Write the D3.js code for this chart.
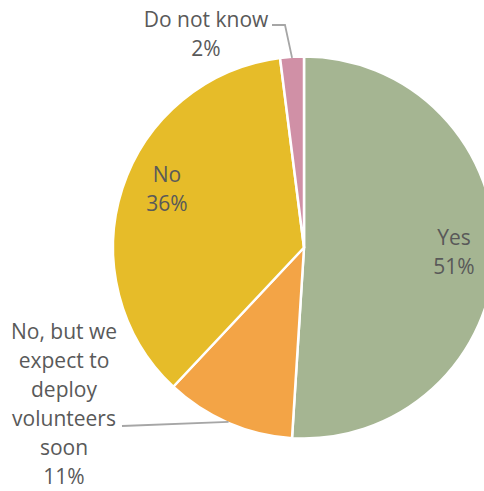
<!DOCTYPE html>
<html>
<head>
<meta charset="utf-8">
<script src="https://cdn.jsdelivr.net/npm/d3@7"></script>
<style>
  body { margin: 0; background: #fff; }
</style>
</head>
<body>
<div id="chart"></div>
<script>
// data
var categories = ["Yes", "No, but we expect to deploy volunteers soon", "No", "Do not know"];
var values = [51, 11, 36, 2];
// how each category name wraps in its label
var nameLines = [["Yes"], ["No, but we", "expect to", "deploy", "volunteers", "soon"], ["No"], ["Do not know"]];
var colors = ["#A5B592", "#F3A446", "#E6BC29", "#D090A6"];

var width = 484, height = 491;
var cx = 304, cy = 247.5, radius = 191;
var lineH = 29;

// first baseline of each label (placed by hand, like in the source chart)
var labelPos = [[454, 245], [64, 339], [167, 182], [206, 27]];
// leader line start points (only outside labels)
var leaders = [null, [[122, 426]], null, [[272, 25], [285, 25]]];

var svg = d3.select("#chart")
            .append("svg")
            .attr("width", width)
            .attr("height", height);

svg.append("rect")
   .attr("width", width)
   .attr("height", height)
   .attr("fill", "#ffffff");

var pie = d3.pie()
            .sort(null)
            .value(function(d) { return d; });

var arcs = pie(values);

var arc = d3.arc()
            .innerRadius(0)
            .outerRadius(radius);

// arc used to find the point on the rim for leader lines
var rimArc = d3.arc()
               .innerRadius(radius - 1)
               .outerRadius(radius - 1);

var g = svg.append("g")
           .attr("transform", "translate(" + cx + "," + cy + ")");

g.selectAll("path")
 .data(arcs)
 .enter()
 .append("path")
 .attr("d", arc)
 .attr("fill", function(d, i) { return colors[i]; })
 .attr("stroke", "#ffffff")
 .attr("stroke-width", 2.5)
 .attr("stroke-linejoin", "round");

// leader lines
var line = d3.line();
arcs.forEach(function(d, i) {
  if (!leaders[i]) return;
  var rim = rimArc.centroid(d);
  var pts = leaders[i].concat([[cx + rim[0], cy + rim[1]]]);
  svg.append("path")
     .attr("d", line(pts))
     .attr("fill", "none")
     .attr("stroke", "#A6A6A6")
     .attr("stroke-width", 1.8);
});

// labels
arcs.forEach(function(d, i) {
  var lines = nameLines[i].concat([values[i] + "%"]);
  var t = svg.append("text")
             .attr("x", labelPos[i][0])
             .attr("y", labelPos[i][1])
             .attr("text-anchor", "middle")
             .attr("font-family", "Open Sans, sans-serif")
             .attr("font-size", "21px")
             .attr("fill", "#595959");
  t.selectAll("tspan")
   .data(lines)
   .enter()
   .append("tspan")
   .attr("x", labelPos[i][0])
   .attr("y", function(s, j) { return labelPos[i][1] + j * lineH; })
   .text(function(s) { return s; });
});
</script>
</body>
</html>
